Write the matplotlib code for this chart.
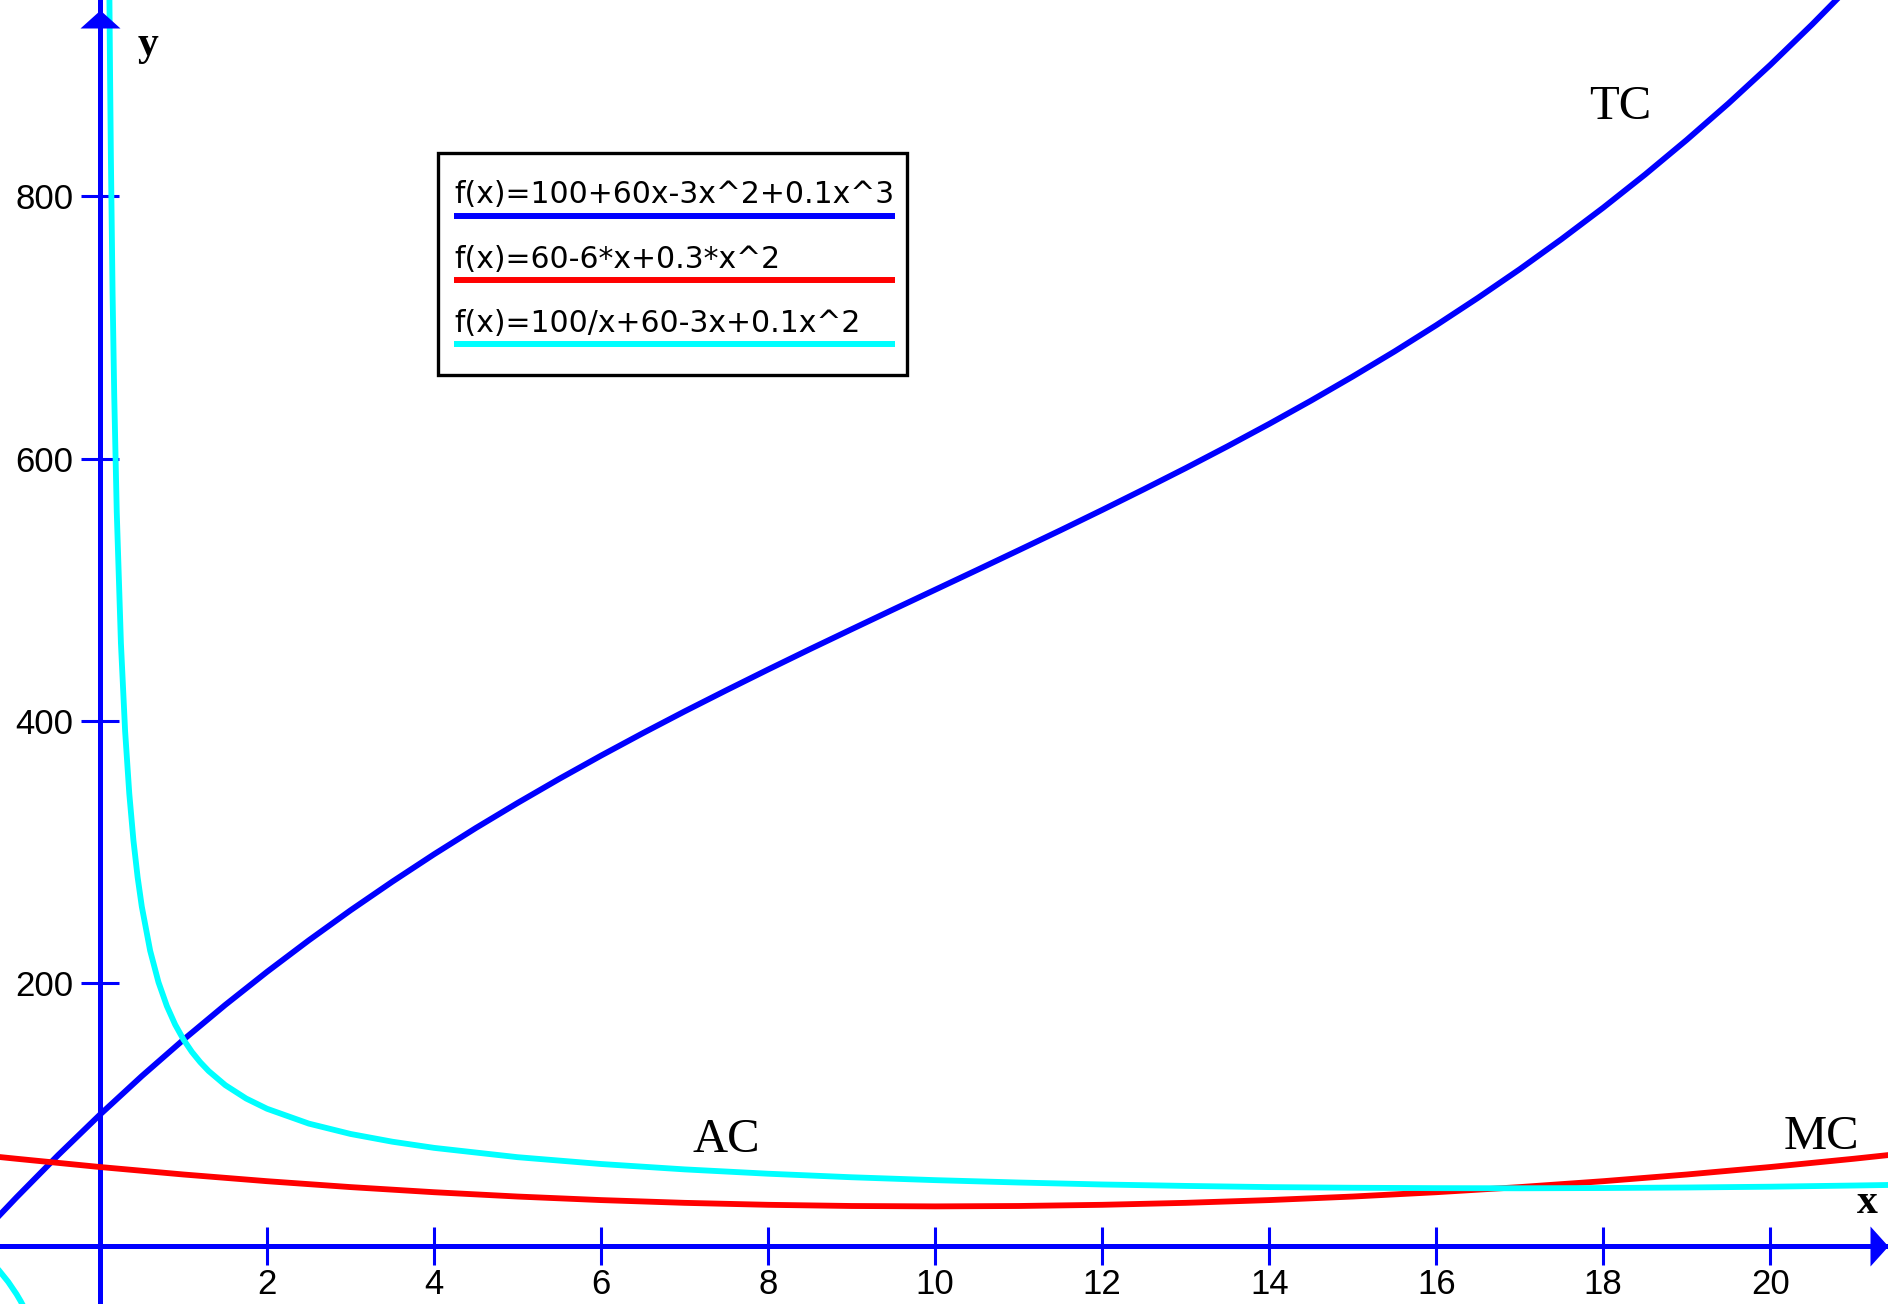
import matplotlib.pyplot as plt
from matplotlib.patches import Rectangle
from matplotlib.lines import Line2D

# values
tc_x = [-1.2, -1, -0.5, 0, 0.5, 1, 1.5, 2, 2.5, 3, 3.5, 4, 4.5, 5, 5.5, 6, 6.5, 7, 7.5, 8, 8.5,
        9, 9.5, 10, 10.5, 11, 11.5, 12, 12.5, 13, 13.5, 14, 14.5, 15, 15.5, 16, 16.5, 17, 17.5,
        18, 18.5, 19, 19.5, 20, 20.5, 21, 21.5]
tc_y = [23.5, 36.9, 69.2, 100, 129.3, 157.1, 183.6, 208.8, 232.8, 255.7, 277.5, 298.4, 318.4,
        337.5, 355.9, 373.6, 390.7, 407.3, 423.4, 439.2, 454.7, 469.9, 485.0, 500, 515.0, 530.1,
        545.3, 560.8, 576.6, 592.7, 609.3, 626.4, 644.1, 662.5, 681.6, 701.6, 722.5, 744.3,
        767.2, 791.2, 816.4, 842.9, 870.7, 900, 930.8, 963.1, 997.1]

mc_x = [-1.2, -1, 0, 1, 2, 3, 4, 5, 6, 7, 8, 9, 10, 11, 12, 13, 14, 15, 16, 17, 18, 19, 20, 21, 21.5]
mc_y = [67.6, 66.3, 60, 54.3, 49.2, 44.7, 40.8, 37.5, 34.8, 32.7, 31.2, 30.3, 30,
        30.3, 31.2, 32.7, 34.8, 37.5, 40.8, 44.7, 49.2, 54.3, 60, 66.3, 69.7]

ac_x = [0.1, 0.11, 0.12, 0.13, 0.15, 0.17, 0.2, 0.25, 0.3, 0.35, 0.4, 0.45, 0.5, 0.6, 0.7, 0.8,
        0.9, 1.0, 1.1, 1.2, 1.3, 1.5, 1.75, 2, 2.5, 3, 3.5, 4, 5, 6, 7, 8, 9, 10, 11, 12, 13,
        14, 15, 16, 17, 18, 19, 20, 21, 21.5]
ac_y = [1059.7, 968.8, 893.0, 828.8, 726.2, 647.7, 559.4, 459.3, 392.4, 344.7, 308.8, 280.9,
        258.5, 224.9, 200.8, 182.7, 168.5, 157.1, 147.7, 139.9, 133.2, 122.4, 112.2, 104.4,
        93.1, 85.2, 79.3, 74.6, 67.5, 62.3, 58.2, 54.9, 52.2, 50, 48.2, 46.7, 45.6, 44.7,
        44.2, 43.9, 43.8, 44.0, 44.4, 45, 45.9, 46.4]
# left branch of the average cost curve (x < 0)
ac_neg_x = [-1.2, -1.1, -1.0, -0.95, -0.9]
ac_neg_y = [-19.6, -27.5, -36.9, -42.3, -48.3]

x_ticks = [2, 4, 6, 8, 10, 12, 14, 16, 18, 20]
y_ticks = [200, 400, 600, 800]

legend_labels = ["f(x)=100+60x-3x^2+0.1x^3", "f(x)=60-6*x+0.3*x^2", "f(x)=100/x+60-3x+0.1x^2"]
legend_colors = ["#0000ff", "#ff0000", "#00ffff"]

W, H, DPI = 1888, 1304, 100
BLUE = "#0000ff"


def fig_xy(px, py):
    # pixel position (from top left) -> figure fraction
    return px / W, 1 - py / H


fig = plt.figure(figsize=(W / DPI, H / DPI), dpi=DPI)
ax = fig.add_axes([0, 0, 1, 1])
ax.set_xlim(-1.198, 21.41)
ax.set_ylim(-44.4, 949.5)

ax.plot(tc_x, tc_y, color=legend_colors[0], lw=4.2, zorder=5)
ax.plot(mc_x, mc_y, color=legend_colors[1], lw=4.2, zorder=5)
ax.plot(ac_x, ac_y, color=legend_colors[2], lw=4.2, zorder=5)
ax.plot(ac_neg_x, ac_neg_y, color=legend_colors[2], lw=4.2, zorder=5)

# axes through the origin
for side in ["top", "right"]:
    ax.spines[side].set_visible(False)
for side in ["left", "bottom"]:
    ax.spines[side].set_position("zero")
    ax.spines[side].set_color(BLUE)
    ax.spines[side].set_linewidth(3.6)
ax.set_xticks(x_ticks)
ax.set_yticks(y_ticks)
ax.tick_params(direction="inout", length=27.4, width=2.2, color=BLUE,
               labelsize=25, labelfontfamily="Liberation Sans")
ax.tick_params(axis="x", pad=2)
ax.tick_params(axis="y", pad=5.5)

# arrow heads
ax.plot([0], [1 - 19 / H], transform=ax.get_xaxis_transform(), clip_on=False,
        marker=[(0, 0.45), (-1, -0.45), (1, -0.45)], ms=28.8, mew=0, color=BLUE, zorder=6)
ax.plot([1 - 9 / W], [0], transform=ax.get_yaxis_transform(), clip_on=False,
        marker=[(0.45, 0), (-0.45, -1), (-0.45, 1)], ms=28.8, mew=0, color=BLUE, zorder=6)

# axis names and curve labels
ax.text(0.455, 907.5, "y", fontsize=30, family="Liberation Serif", weight="bold", va="baseline")
ax.text(21.04, 24.9, "x", fontsize=30, family="Liberation Serif", weight="bold", va="baseline")
ax.text(17.83, 858.8, "TC", fontsize=35, family="Liberation Serif", va="baseline")
ax.text(7.10, 71.4, "AC", fontsize=35, family="Liberation Serif", va="baseline")
ax.text(20.16, 73.7, "MC", fontsize=35, family="Liberation Serif", va="baseline")

# legend box
x0, y0 = fig_xy(438, 375)
x1, y1 = fig_xy(907, 153)
fig.add_artist(Rectangle((x0, y0), x1 - x0, y1 - y0, transform=fig.transFigure,
                         facecolor="white", edgecolor="black", lw=2.4, zorder=10))
for i, (label, color) in enumerate(zip(legend_labels, legend_colors)):
    tx, ty = fig_xy(454, 203 + i * 64.5)
    fig.text(tx, ty, label, fontsize=21.5, family="DejaVu Sans", va="baseline", zorder=11)
    lx0, ly = fig_xy(454, 216 + i * 64)
    lx1, _ = fig_xy(895, 0)
    fig.add_artist(Line2D([lx0, lx1], [ly, ly], transform=fig.transFigure,
                          color=color, lw=4.3, solid_capstyle="butt", zorder=11))

fig.savefig("out.png", dpi=DPI)
